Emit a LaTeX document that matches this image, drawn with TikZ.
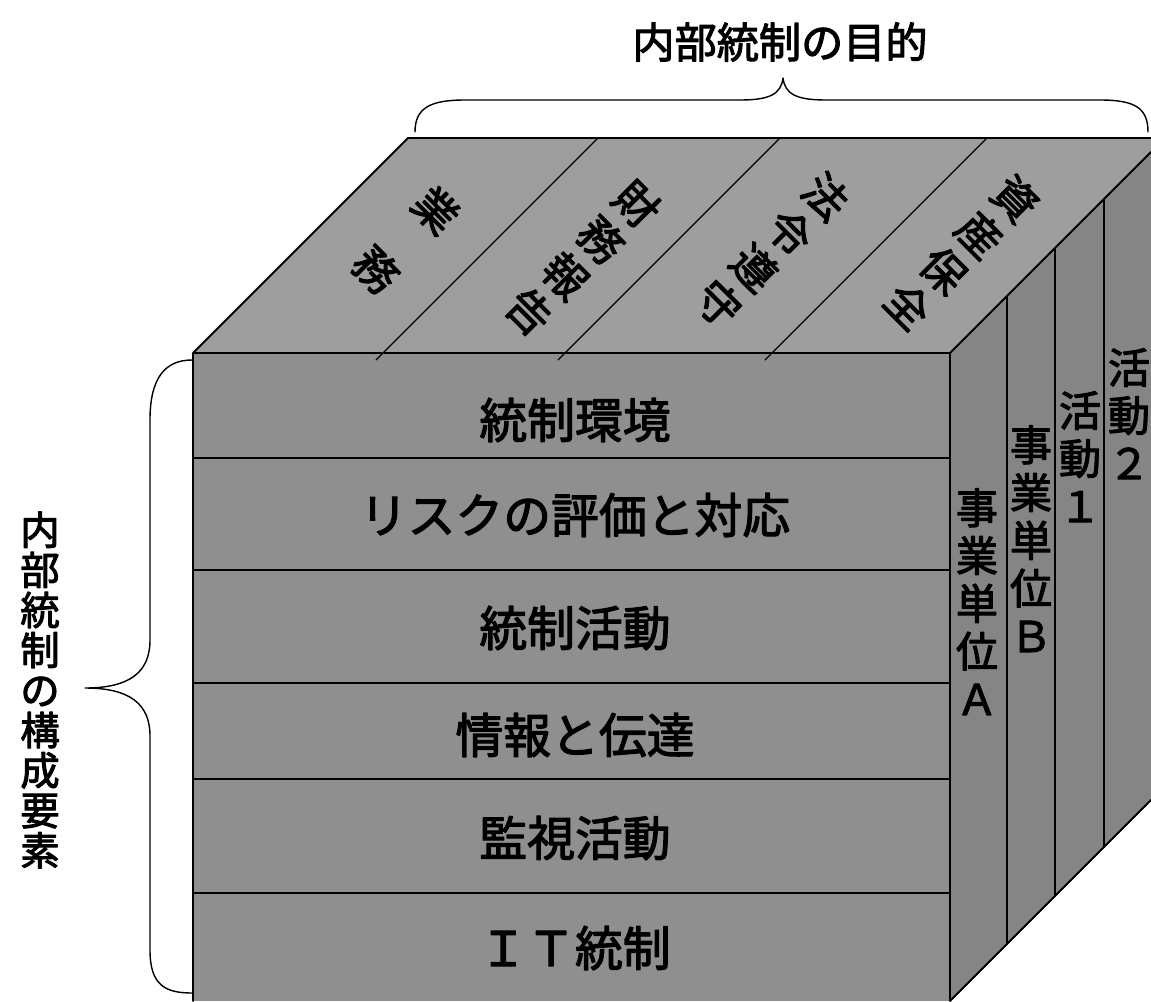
\documentclass[tikz,border=0pt]{standalone}
\usepackage{fontspec}
\newfontfamily\jpfont[FakeBold=2.5]{Noto Sans CJK JP}
\definecolor{topgray}{gray}{0.62}
\definecolor{frontgray}{gray}{0.56}
\definecolor{sidegray}{gray}{0.52}
\begin{document}
\begin{tikzpicture}[x=0.025cm, y=-0.025cm, line cap=round, line join=round,
	edge/.style={black, line width=1.4pt},
	divline/.style={black, line width=0.8pt},
	bracestyle/.style={black, line width=1pt},
	rowtext/.style={font=\jpfont\fontsize{34}{38}\selectfont, inner sep=0pt},
	toptext/.style={font=\jpfont\fontsize{31}{36}\selectfont, align=center, rotate=-45, inner sep=0pt},
	sidetext/.style={font=\jpfont\fontsize{30}{34}\selectfont, align=center, anchor=north, inner sep=0pt},
	bracetext/.style={font=\jpfont\fontsize{28}{28.5}\selectfont, align=center, inner sep=0pt}]
			\useasboundingbox (0,0) rectangle (1151,1001);
			\foreach \x/\y/\n in {193/353/A, 950/353/B, 950/1001/C, 193/1001/D} {
				\coordinate (\n) at (\x,\y);
				\coordinate (\n') at (\x+215,\y-215);
			}
			
			\fill[topgray] (A)--(A')--(B')--(B)--cycle;
			\fill[frontgray] (A)--(B)--(C)--(D)--cycle;
			\fill[sidegray] (B)--(B')--(C')--(C)--cycle;
			
			\foreach \y in {458,570,683,779,893}
				\draw[divline] (193,\y) -- (950,\y);
			\foreach \d in {57,105,154}
				\draw[divline] (950+\d,353-\d) -- (950+\d,1001-\d);
			\foreach \a in {383,565,772}
				\draw[divline] (\a-7,360) -- (\a+215,138);
			
			\draw[edge] (D) -- (A) -- (B) -- (C) (A) -- (A') -- (B') (B) -- (B') (C) -- (C');
			
			\foreach \y/\t [count=\i] in {420/統制環境, 515/リスクの評価と対応, 628/統制活動, 735/情報と伝達, 838/監視活動, 948/ＩＴ統制}
				\node[rowtext] (row\i) at (575,\y) {\t};
			
			\node[toptext] (goal1) at (406,240) {業\\[24pt]務};
			\node[toptext] (goal2) at (583,258) {財\\務\\報\\告};
			\node[toptext] (goal3) at (772,250) {法\\令\\遵\\守};
			\node[toptext] (goal4) at (962,252) {資\\産\\保\\全};
			
			\node[sidetext] (unitA) at (977,488) {事\\業\\単\\位\\Ａ};
			\node[sidetext] (unitB) at (1031,425) {事\\業\\単\\位\\Ｂ};
			\node[sidetext] (act1) at (1080,391) {活\\動\\１};
			\node[sidetext] (act2) at (1129,348) {活\\動\\２};
			
			\draw[bracestyle] (415,132) .. controls (415,108) and (430,100) .. (465,100) -- (740,100) .. controls (770,100) and (781,94) .. (783,78) .. controls (785,94) and (796,100) .. (826,100) -- (1100,100) .. controls (1135,100) and (1148,108) .. (1148,132);
			\node[font=\jpfont\fontsize{30}{34}\selectfont, inner sep=0pt] (goal) at (780,42) {内部統制の目的};
			
			\draw[bracestyle] (192,360) .. controls (165,360) and (150,378) .. (150,420) -- (150,640) .. controls (150,672) and (130,688) .. (85,688) .. controls (130,688) and (150,704) .. (150,736) -- (150,950) .. controls (150,985) and (165,993) .. (192,993);
			\node[bracetext] (parts) at (40,690) {内\\部\\統\\制\\の\\構\\成\\要\\素};
			
		\end{tikzpicture}
\end{document}
